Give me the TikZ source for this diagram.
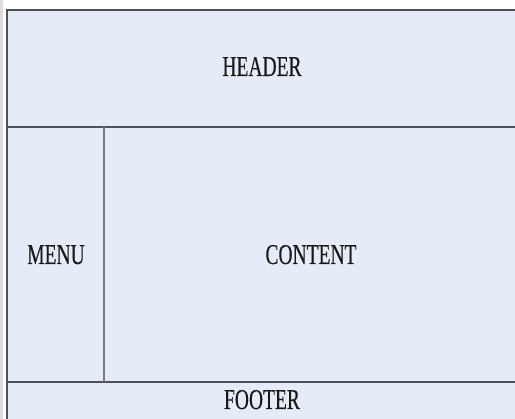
\documentclass[tikz,border=0pt]{standalone}
\usepackage{fontspec}
\newfontfamily\cellfont[FakeStretch=0.68,FakeBold=0.25]{Liberation Serif}
\definecolor{pagefill}{RGB}{230,236,247}
\definecolor{frameline}{RGB}{78,80,90}
\definecolor{splitline}{RGB}{120,122,130}
\definecolor{edgestrip}{RGB}{221,221,221}
\tikzset{
  frame/.style={draw=frameline, line width=1.3pt},
  split/.style={draw=splitline, line width=1.3pt},
  celltext/.style={font=\cellfont\fontsize{28.7}{30}\selectfont, text=black!90, inner sep=0pt, anchor=base}
}
\begin{document}
\begin{tikzpicture}[x=1pt,y=-1pt]
  \useasboundingbox (0,0) rectangle (515,419);
  % page background and left strip
  \fill[white] (0,0) rectangle (515,419);
  \fill[edgestrip] (0,0) rectangle (3,419);
  % layout area
  \fill[pagefill] (7,10) rectangle (515,419);
  % frame and separators
  \draw[frame] (515,10) -- (7,10) -- (7,419);
  \draw[frame] (7,127) -- (515,127);
  \draw[frame] (7,382) -- (515,382);
  \draw[split] (104,127) -- (104,382);
  % cell labels
  \node[celltext] (header)  at (262,76)  {HEADER};
  \node[celltext] (menu)    at (56,264)  {MENU};
  \node[celltext] (content) at (311,264) {CONTENT};
  \node[celltext] (footer)  at (262,409) {FOOTER};
\end{tikzpicture}
\end{document}
